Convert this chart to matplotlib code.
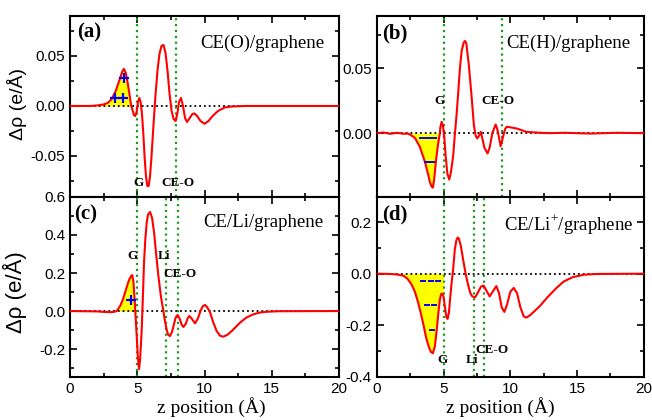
import numpy as np
import matplotlib
matplotlib.use("Agg")
import matplotlib.pyplot as plt
from matplotlib.ticker import MultipleLocator, FormatStrFormatter

plt.rcParams['font.family'] = ['Liberation Sans', 'DejaVu Sans']
plt.rcParams['axes.unicode_minus'] = False
plt.rcParams['mathtext.fontset'] = 'custom'
plt.rcParams['mathtext.rm'] = 'Liberation Serif'

# --- data ---
# (a) CE(O)/graphene
z_a = [0, 1.5, 2.0, 2.5, 2.8, 3.1, 3.4, 3.7, 3.9, 4.0, 4.15, 4.3, 4.45, 4.55, 4.6, 4.75,
       4.85, 4.95, 5.05, 5.15, 5.25, 5.35, 5.45, 5.55, 5.65, 5.75, 5.85, 5.95, 6.05, 6.2,
       6.35, 6.5, 6.65, 6.8, 6.95, 7.1, 7.25, 7.4, 7.55, 7.7, 7.85, 8.0, 8.1, 8.25, 8.4,
       8.55, 8.7, 8.9, 9.1, 9.25, 9.45, 9.7, 10.0, 10.3, 10.6, 11.0, 11.5, 12, 13, 20]
rho_a = [0, 0, 0.0005, 0.0015, 0.003, 0.007, 0.015, 0.027, 0.035, 0.037, 0.033, 0.022,
         0.009, 0.0, -0.002, -0.009, -0.010, -0.006, 0.004, 0.008, 0.004, -0.008, -0.028,
         -0.052, -0.071, -0.080, -0.080, -0.070, -0.052, -0.020, 0.010, 0.035, 0.052,
         0.060, 0.061, 0.053, 0.035, 0.012, -0.005, -0.013, -0.015, -0.006, 0.004, 0.008,
         0.0, -0.012, -0.016, -0.012, -0.008, -0.0075, -0.010, -0.015, -0.0178, -0.015,
         -0.010, -0.005, -0.0015, -0.0005, 0, 0]

# (b) CE(H)/graphene
z_b = [0, 0.5, 1.0, 1.5, 2.0, 2.3, 2.47, 2.85, 3.22, 3.6, 3.85, 3.97, 4.1, 4.2, 4.3, 4.42,
       4.55, 4.67, 4.72, 4.75, 4.85, 4.95, 5.05, 5.15, 5.28, 5.42, 5.55, 5.72, 5.85, 5.97,
       6.1, 6.22, 6.35, 6.5, 6.6, 6.7, 6.89, 7.09, 7.27, 7.4, 7.52, 7.65, 7.79, 7.9, 8.05,
       8.29, 8.45, 8.65, 8.9, 9.05, 9.27, 9.45, 9.6, 9.72, 10.0, 10.47, 11.2, 12.2, 13,
       14, 16, 18, 20]
rho_b = [0, 0.0005, -0.0005, 0.0003, -0.0005, -0.0003, -0.001, -0.0036, -0.0105, -0.022,
         -0.032, -0.0375, -0.041, -0.0418, -0.035, -0.022, -0.011, -0.003, 0.0, 0.004,
         0.0087, 0.006, -0.003, -0.017, -0.031, -0.0356, -0.030, -0.017, 0.0, 0.0138,
         0.032, 0.0497, 0.063, 0.0695, 0.0708, 0.069, 0.0523, 0.029, 0.0061, -0.002,
         -0.004, -0.002, 0.001, -0.004, -0.011, -0.0156, -0.011, 0.0, 0.0067, 0.002,
         -0.010, -0.003, 0.003, 0.0049, 0.0045, 0.0036, 0.001, 0.0003, 0, 0.0003,
         -0.0003, 0.0003, 0]

# (c) CE/Li/graphene
z_c = [0, 2.0, 2.6, 3.0, 3.3, 3.45, 3.5, 3.72, 3.9, 4.09, 4.25, 4.41, 4.55, 4.63, 4.72,
       4.83, 4.85, 4.9, 4.96, 5.04, 5.13, 5.2, 5.27, 5.33, 5.42, 5.5, 5.6, 5.7, 5.8, 5.95,
       6.1, 6.25, 6.4, 6.57, 6.75, 6.94, 7.05, 7.19, 7.3, 7.43, 7.58, 7.73, 7.85, 8.0,
       8.15, 8.3, 8.43, 8.6, 8.75, 8.87, 9.05, 9.29, 9.5, 9.7, 9.87, 10.04, 10.2, 10.4,
       10.65, 10.9, 11.15, 11.4, 11.7, 12.1, 12.64, 13.1, 13.6, 14.1, 14.6, 15.5, 20]
rho_c = [0, -0.002, -0.005, -0.006, -0.004, 0.0, 0.002, 0.026, 0.055, 0.096, 0.135, 0.167,
         0.185, 0.189, 0.15, 0.03, 0.0, -0.06, -0.132, -0.24, -0.305, -0.26, -0.18, -0.096,
         0.08, 0.254, 0.38, 0.464, 0.508, 0.521, 0.49, 0.412, 0.30, 0.184, 0.08, 0.0,
         -0.05, -0.10, -0.125, -0.132, -0.11, -0.069, -0.035, -0.021, -0.04, -0.072,
         -0.084, -0.068, -0.038, -0.026, -0.04, -0.065, -0.04, 0.0, 0.025, 0.032, 0.02,
         -0.005, -0.06, -0.105, -0.13, -0.135, -0.125, -0.10, -0.061, -0.035, -0.018,
         -0.008, -0.004, -0.001, 0]

# (d) CE/Li+/graphene
z_d = [0, 1.0, 1.5, 2.0, 2.3, 2.6, 2.85, 3.1, 3.3, 3.5, 3.7, 3.9, 4.05, 4.2, 4.35, 4.5,
       4.6, 4.72, 4.82, 4.92, 5.0, 5.1, 5.22, 5.3, 5.4, 5.5, 5.6, 5.72, 5.84, 5.95, 6.05,
       6.15, 6.3, 6.46, 6.65, 6.84, 7.0, 7.15, 7.35, 7.55, 7.8, 8.0, 8.2, 8.45, 8.7, 8.95,
       9.15, 9.35, 9.55, 9.75, 10.0, 10.25, 10.5, 10.75, 11.0, 11.2, 11.5, 12.2, 12.8,
       13.46, 14.0, 14.7, 15.5, 16.5, 20]
rho_d = [0, -0.001, -0.003, -0.008, -0.02, -0.042, -0.07, -0.113, -0.155, -0.20, -0.25,
         -0.285, -0.303, -0.308, -0.28, -0.21, -0.155, -0.10, -0.078, -0.078, -0.09,
         -0.13, -0.17, -0.175, -0.15, -0.09, -0.035, 0.02, 0.094, 0.128, 0.14, 0.135,
         0.105, 0.055, 0.0, -0.045, -0.075, -0.088, -0.092, -0.075, -0.05, -0.046, -0.065,
         -0.088, -0.068, -0.048, -0.075, -0.13, -0.148, -0.12, -0.07, -0.055, -0.075,
         -0.13, -0.165, -0.17, -0.16, -0.126, -0.09, -0.055, -0.03, -0.013, -0.004,
         -0.001, 0]

panels = [
    dict(z=z_a, rho=rho_a, tag='(a)', title='CE(O)/graphene', ylim=(-0.091, 0.09),
         major=0.05, minor=0.025, fmt='%.2f', fill=(1.9, 4.55),
         lines=[5.0, 7.9], labels=[('G', 5.06, -0.077), ('CE-O', 8.03, -0.077)],
         plus=[(4.0, 0.028), (3.35, 0.008), (3.97, 0.008)], minus=[],
         title_xy=(0.944, 0.851), tag_xy=(0.026, 0.91)),
    dict(z=z_b, rho=rho_b, tag='(b)', title='CE(H)/graphene', ylim=(-0.049, 0.09),
         major=0.05, minor=0.025, fmt='%.2f', fill=(2.3, 4.72),
         lines=[5.0, 9.4], labels=[('G', 4.67, 0.0246), ('CE-O', 9.06, 0.0246)],
         plus=[], minus=[(3.41, -0.0036), (3.86, -0.0036), (4.31, -0.0036),
                         (3.75, -0.022), (4.16, -0.022)],
         title_xy=(0.948, 0.851), tag_xy=(0.02, 0.903)),
    dict(z=z_c, rho=rho_c, tag='(c)', title='CE/Li/graphene', ylim=(-0.347, 0.6),
         major=0.2, minor=0.1, fmt='%.1f', fill=(3.45, 4.85),
         lines=[5.0, 7.1, 8.0],
         labels=[('G', 4.63, 0.29), ('Li', 6.99, 0.29), ('CE-O', 8.18, 0.195)],
         plus=[(4.51, 0.056)], minus=[],
         title_xy=(0.94, 0.856), tag_xy=(0.015, 0.9)),
    dict(z=z_d, rho=rho_d, tag='(d)', title='CE/Li$^{+}$/graphene', ylim=(-0.4, 0.297),
         major=0.2, minor=0.1, fmt='%.1f', fill=(1.0, 5.0),
         lines=[5.0, 7.3, 8.0],
         labels=[('G', 4.89, -0.333), ('Li', 7.1, -0.333), ('CE-O', 8.6, -0.294)],
         plus=[], minus=[(3.48, -0.029), (4.04, -0.029), (4.6, -0.029),
                         (3.78, -0.122), (4.27, -0.122), (4.14, -0.217)],
         title_xy=(0.959, 0.844), tag_xy=(0.02, 0.9)),
]

fig = plt.figure(figsize=(6.52, 4.2), dpi=100)
rects = [[0.1074, 0.531, 0.4126, 0.431], [0.578, 0.531, 0.4095, 0.431],
         [0.1074, 0.1024, 0.4126, 0.4286], [0.578, 0.1024, 0.4095, 0.4286]]

for i, (p, r) in enumerate(zip(panels, rects)):
    ax = fig.add_axes(r)
    z = np.array(p['z'])
    rho = np.array(p['rho'])
    lo, hi = p['fill']
    m = (z >= lo) & (z <= hi)
    ax.fill_between(z[m], rho[m], 0, color='yellow', lw=0, zorder=1)
    ax.axhline(0, color='black', ls=':', lw=1.3, zorder=2)
    for xl in p['lines']:
        ax.axvline(xl, color='#1f9a1f', ls=':', lw=1.6, zorder=2)
    ax.plot(z, rho, color='red', lw=1.5, zorder=3)
    for (xp, yp) in p['plus']:
        ax.plot(xp, yp, marker='+', color='blue', ms=7, mew=1.6, zorder=4)
    for (xp, yp) in p['minus']:
        ax.plot(xp, yp, marker='_', color='blue', ms=3.8, mew=1.4, zorder=4)
    for (txt, xp, yp) in p['labels']:
        ax.text(xp, yp, txt, ha='center', va='center', fontsize=9.5,
                fontweight='bold', family='Liberation Serif', zorder=5)
    ax.text(*p['title_xy'], p['title'], transform=ax.transAxes, ha='right', va='center',
            fontsize=13.5, family='Liberation Serif')
    ax.text(*p['tag_xy'], p['tag'], transform=ax.transAxes, ha='left', va='center',
            fontsize=15, fontweight='bold', family='Liberation Serif')

    ax.set_xlim(0, 20)
    ax.set_ylim(*p['ylim'])
    ax.xaxis.set_major_locator(MultipleLocator(5))
    ax.xaxis.set_minor_locator(MultipleLocator(2.5))
    ax.yaxis.set_major_locator(MultipleLocator(p['major']))
    ax.yaxis.set_minor_locator(MultipleLocator(p['minor']))
    ax.yaxis.set_major_formatter(FormatStrFormatter(p['fmt']))
    ax.tick_params(which='both', direction='in', top=True, right=True, width=1.2,
                   labelsize=11)
    ax.tick_params(which='major', length=5)
    ax.tick_params(which='minor', length=3)
    for s in ax.spines.values():
        s.set_linewidth(1.5)
    if i < 2:
        ax.tick_params(labelbottom=False)
    else:
        ax.set_xlabel('z position (Å)', fontsize=14, family='Liberation Serif')
        ax.xaxis.set_label_coords(0.524 if i == 2 else 0.464, -0.112)
    if i == 0:
        ax.set_ylabel('Δρ (e/Å)', fontsize=14)
        ax.yaxis.set_label_coords(-0.16, 0.514)
    elif i == 2:
        ax.set_ylabel('Δρ (e/Å)', fontsize=16)
        ax.yaxis.set_label_coords(-0.16, 0.47)

fig.savefig('out.png', dpi=100)
